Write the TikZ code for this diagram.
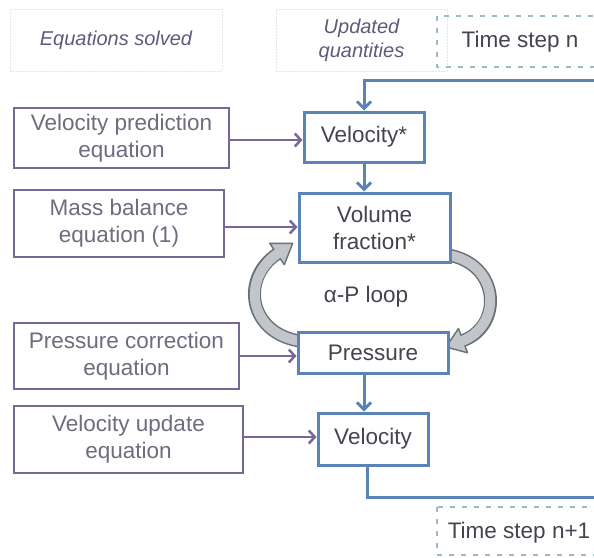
\documentclass[tikz,border=0pt]{standalone}
\usepackage{fontspec}
\setmainfont{Liberation Sans}
\usetikzlibrary{arrows.meta}
\definecolor{stepblue}{HTML}{5A84B6}
\definecolor{eqpurple}{HTML}{776898}
\definecolor{maintext}{HTML}{44444E}
\definecolor{eqtext}{HTML}{6E6C7E}
\definecolor{headtext}{HTML}{62587A}
\definecolor{faintline}{HTML}{E6E6E6}
\definecolor{tsline}{HTML}{9BBBC2}
\definecolor{loopedge}{HTML}{687078}
\definecolor{loopbody}{HTML}{C2C6CB}
\tikzset{
  txt/.style={font=\fontsize{22.5}{27}\selectfont, align=center},
  mainbox/.style={txt, draw=stepblue, line width=3pt, fill=white, text=maintext, inner sep=0pt},
  eqbox/.style={txt, draw=eqpurple, line width=2.8pt, fill=white, text=eqtext, inner sep=0pt},
  headbox/.style={draw=faintline, line width=1pt, dash pattern=on 2pt off 1pt, inner sep=0pt,
    font=\fontsize{20}{24}\selectfont\itshape, text=headtext, align=center},
  tsbox/.style={draw=tsline, line width=1.2pt, dash pattern=on 5pt off 7pt, inner sep=0pt},
  tstext/.style={font=\fontsize{22.5}{27}\selectfont, text=maintext},
  blueflow/.style={draw=stepblue, line width=3pt},
  bluearrow/.style={blueflow, -{Straight Barb[length=7pt,width=14pt,line width=3pt]}},
  eqarrow/.style={draw=eqpurple, line width=2.6pt, -{Straight Barb[length=6pt,width=13pt,line width=2.5pt]}},
  loopout/.style={draw=loopedge, line width=13pt},
  loopin/.style={draw=loopbody, line width=10pt},
  loophead/.style={fill=loopbody, draw=loopedge, line width=1.4pt, line join=round}
}
\begin{document}
\begin{tikzpicture}[x=1pt, y=-1pt]
\useasboundingbox (0,0) rectangle (594,557);

% column headers
\node[headbox, minimum width=212pt, minimum height=62pt] (hdeq) at (116,40) {Equations solved};
\node[headbox, minimum width=171pt, minimum height=62pt] (hdq) at (361.5,40) {Updated\\quantities};

% time step frames
\draw[tsbox] (437,16) rectangle (620,67);
\node[tstext] (tsn) at (520,42) {Time step n};
\draw[tsbox] (437,507) rectangle (620,555);
\node[tstext] (tsn1) at (519,533) {Time step n+1};

% curved block arrows of the alpha-P loop
\draw[loopout] (310,342) .. controls (250,340) and (238,280) .. (277,254);
\fill[loophead] (292.7,243.3) -- (284.3,264.7) -- (269.7,243.3) -- cycle;
\draw[loopin] (310,342) .. controls (250,340) and (238,280) .. (278.5,253);

\draw[loopout] (440,254) .. controls (500,258) and (505,325) .. (463,340.6);
\fill[loophead] (446,347) -- (467.5,352.8) -- (458.5,328.4) -- cycle;
\draw[loopin] (440,254) .. controls (500,258) and (505,325) .. (461.5,341.2);

% solved quantities
\node[mainbox, minimum width=120pt, minimum height=50pt] (vstar) at (364,137) {Velocity*};
\node[mainbox, minimum width=151pt, minimum height=69pt] (volf) at (374.5,227.5) {Volume\\fraction*};
\node[mainbox, minimum width=150pt, minimum height=41pt] (pres) at (373,353) {Pressure};
\node[mainbox, minimum width=110pt, minimum height=52pt] (vel) at (373,439) {Velocity};

\node[txt, text=maintext] (loop) at (366,297) {α-P loop};

% equations
\node[eqbox, minimum width=215pt, minimum height=60pt] (eqvp) at (121.5,138) {Velocity prediction\\equation};
\node[eqbox, minimum width=210pt, minimum height=67pt] (eqmb) at (119,223.5) {Mass balance\\equation (1)};
\node[eqbox, minimum width=225pt, minimum height=66pt] (eqpc) at (126.5,356) {Pressure correction\\equation};
\node[eqbox, minimum width=229pt, minimum height=67pt] (equv) at (128.5,439.5) {Velocity update\\equation};

% equations feed the quantities
\draw[eqarrow] (eqvp.east |- 0,140) -- (vstar.west |- 0,140);
\draw[eqarrow] (eqmb.east |- 0,227) -- (volf.west |- 0,227);
\draw[eqarrow] (eqpc.east |- 0,356) -- (pres.west |- 0,356);
\draw[eqarrow] (equv.east |- 0,437) -- (vel.west |- 0,437);

% sequence of the time step
\coordinate (tin) at (600,80);
\coordinate (tout) at (600,497);
\draw[bluearrow] (tin) -| (vstar.north);
\draw[bluearrow] (vstar.south) -- (vstar.south |- volf.north);
\draw[bluearrow] (pres.south -| vstar.south) -- (vel.north -| vstar.south);
\draw[blueflow] (vel.south -| 367,0) |- (tout);
\end{tikzpicture}
\end{document}
